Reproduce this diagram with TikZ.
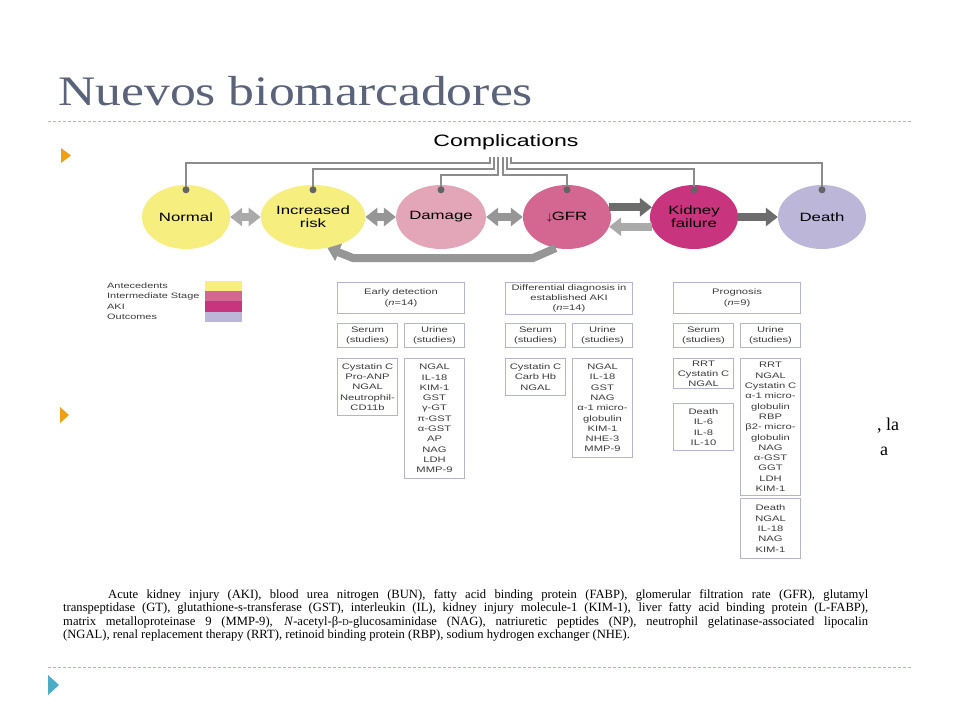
\documentclass[tikz,border=0pt]{standalone}
\usepackage{fontspec}
\setmainfont{Liberation Serif}
\newfontfamily\figfont[FakeStretch=1.4]{Liberation Sans}
\newfontfamily\titlefont[FakeStretch=1.23]{Liberation Serif}
\usetikzlibrary{shapes.geometric, arrows.meta}

\definecolor{titlegray}{RGB}{90,99,122}
\definecolor{rulecol}{RGB}{140,196,212}
\definecolor{bulletorange}{RGB}{240,160,20}
\definecolor{bulletblue}{RGB}{75,172,198}
\definecolor{anteyel}{RGB}{246,238,126}
\definecolor{dampink}{RGB}{226,166,184}
\definecolor{gfrpink}{RGB}{212,102,146}
\definecolor{kidmag}{RGB}{200,52,126}
\definecolor{deathlav}{RGB}{188,182,216}
\definecolor{linkgray}{RGB}{140,140,140}
\definecolor{pingray}{RGB}{100,100,100}
\definecolor{boxline}{RGB}{180,180,204}
\definecolor{boxtext}{RGB}{60,60,60}
\definecolor{arrlight}{RGB}{170,170,170}
\definecolor{arrmid}{RGB}{150,150,150}
\definecolor{arrdark}{RGB}{108,108,108}

\begin{document}
\begin{tikzpicture}[
        x=1pt, y=-1pt,
        stage/.style={
            ellipse,
            minimum width=88pt,
            minimum height=64pt,
            inner sep=0pt,
            align=center,
            font=\figfont\fontsize{12}{13}\selectfont
        },
        link/.style={draw=linkgray, line width=1.4pt},
        pin/.style={circle, fill=pingray, minimum size=7pt, inner sep=0pt},
        fat/.style={line width=8pt, line join=miter},
        tip/.style={-{Triangle[width=18pt,length=12pt]}},
        twotip/.style={{Triangle[width=18pt,length=12pt]}-{Triangle[width=18pt,length=12pt]}},
        box/.style={
            draw=boxline, line width=1pt,
            align=center, inner sep=2pt,
            anchor=north west, text=boxtext,
            font=\figfont\fontsize{8}{10.3}\selectfont
        },
        wbox/.style={box, minimum width=127pt, text width=123pt},
        nbox/.style={box, minimum width=60pt, text width=56pt},
        rule/.style={draw=rulecol, line width=0.9pt, dash pattern=on 3pt off 2pt},
        legtext/.style={anchor=west, inner sep=0pt, text=boxtext, font=\figfont\fontsize{7.8}{8}\selectfont}
    ]
        \useasboundingbox[fill=white] (0,0) rectangle (960,720);

        % Slide title, rules and bullets
        \node[anchor=base west, inner sep=0pt, text=titlegray,
              font=\titlefont\fontsize{42}{42}\selectfont] (title) at (58,105) {Nuevos biomarcadores};
        \draw[rule] (48,121) -- (912,121);
        \draw[rule] (48,667) -- (912,667);
        \fill[bulletorange] (61,148) -- (71,155.5) -- (61,163) -- cycle;
        \fill[bulletorange] (60,407) -- (69,415) -- (60,423) -- cycle;
        \fill[bulletblue] (48,675) -- (59,685) -- (48,695) -- cycle;

        % Stages
        \node[stage, fill=anteyel] (norm) at (186,217) {Normal};
        \node[stage, fill=anteyel] (incr) at (313,217) {Increased\\risk};
        \node[stage, fill=dampink] (dam) at (441,217) {Damage};
        \node[stage, fill=gfrpink] (gfr) at (567,217) {{\fontsize{10}{10}\selectfont$\downarrow$}GFR};
        \node[stage, fill=kidmag] (kid) at (694,217) {Kidney\\failure};
        \node[stage, fill=deathlav] (dth) at (822,217) {Death};

        % Complications and its links
        \node[font=\figfont\fontsize{16.5}{17}\selectfont] (comp) at (506,142) {Complications};
        \coordinate (c1) at (490,157);
        \coordinate (c2) at (494,157);
        \coordinate (c3) at (498,157);
        \coordinate (c4) at (503,157);
        \coordinate (c5) at (507,157);
        \coordinate (c6) at (511,157);
        \draw[link] ([yshift=-5pt]norm.north) |- ([yshift=-6pt]c1) -- (c1);
        \draw[link] ([yshift=-5pt]incr.north) |- ([yshift=-12pt]c2) -- (c2);
        \draw[link] ([yshift=-5pt]dam.north) |- ([yshift=-18pt]c3) -- (c3);
        \draw[link] ([yshift=-5pt]gfr.north) |- ([yshift=-18pt]c4) -- (c4);
        \draw[link] ([yshift=-5pt]kid.north) |- ([yshift=-12pt]c5) -- (c5);
        \draw[link] ([yshift=-5pt]dth.north) |- ([yshift=-6pt]c6) -- (c6);
        \foreach \s in {norm, incr, dam, gfr, kid, dth}
            \node[pin] (pin-\s) at ([yshift=-5pt]\s.north) {};

        % Block arrows between stages
        \draw[fat, twotip, arrlight] (norm.east) -- (incr.west);
        \draw[fat, twotip, arrmid] (incr.east) -- (dam.west);
        \draw[fat, twotip, arrmid] (dam.east) -- (gfr.west);
        \draw[fat, tip, arrdark] (gfr.13) -- (kid.167);
        \draw[fat, tip, arrlight] (kid.193) -- (gfr.-13);
        \draw[fat, tip, arrdark] (kid.east) -- (dth.west);
        \draw[fat, tip, arrmid] (gfr.250) -- (533,258) -- (353,258) -- (incr.-65);

        % Legend
        \foreach \lab/\col [count=\i] in {Antecedents/anteyel, Intermediate Stage/gfrpink, AKI/kidmag, Outcomes/deathlav} {
            \fill[\col] ({205},{270.5+10.3*\i}) rectangle ({242},{280.8+10.3*\i});
            \node[legtext] (leg\i) at ({107},{275.7+10.3*\i}) {\lab};
        }

        % Early detection
        \node[wbox, minimum height=31pt] (ed) at (337,282) {Early detection\\(\textit{n}=14)};
        \node[nbox, minimum height=24pt] (edser) at (337,323) {Serum\\(studies)};
        \node[nbox, minimum height=24pt] (eduri) at (404,323) {Urine\\(studies)};
        \node[nbox, minimum height=57pt] (edserl) at (337,358) {Cystatin C\\Pro-ANP\\NGAL\\Neutrophil-\\CD11b};
        \node[nbox, minimum height=120pt] (eduril) at (404,358) {NGAL\\IL-18\\KIM-1\\GST\\γ-GT\\π-GST\\α-GST\\AP\\NAG\\LDH\\MMP-9};

        % Differential diagnosis
        \node[wbox, minimum height=31pt] (dd) at (505,282) {Differential diagnosis in\\established AKI\\(\textit{n}=14)};
        \node[nbox, minimum height=24pt] (ddser) at (505,323) {Serum\\(studies)};
        \node[nbox, minimum height=24pt] (dduri) at (572,323) {Urine\\(studies)};
        \node[nbox, minimum height=37pt] (ddserl) at (505,358) {Cystatin C\\Carb Hb\\NGAL};
        \node[nbox, minimum height=99pt] (dduril) at (572,358) {NGAL\\IL-18\\GST\\NAG\\α-1 micro-\\globulin\\KIM-1\\NHE-3\\MMP-9};

        % Prognosis
        \node[wbox, minimum height=31pt] (pr) at (673,282) {Prognosis\\(\textit{n}=9)};
        \node[nbox, minimum height=24pt] (prser) at (673,323) {Serum\\(studies)};
        \node[nbox, minimum height=24pt] (pruri) at (740,323) {Urine\\(studies)};
        \node[nbox, minimum height=30pt] (prserl) at (673,358) {RRT\\Cystatin C\\NGAL};
        \node[nbox, minimum height=47pt] (prserd) at (673,403) {Death\\IL-6\\IL-8\\IL-10};
        \node[nbox, minimum height=137pt] (pruril) at (740,358) {RRT\\NGAL\\Cystatin C\\α-1 micro-\\globulin\\RBP\\β2- micro-\\globulin\\NAG\\α-GST\\GGT\\LDH\\KIM-1};
        \node[nbox, minimum height=60pt] (prurid) at (740,498) {Death\\NGAL\\IL-18\\NAG\\KIM-1};

        % Side text
        \node[anchor=base west, inner sep=0pt, font=\fontsize{18}{18}\selectfont] (sidea) at (877,430) {, la};
        \node[anchor=base west, inner sep=0pt, font=\fontsize{18}{18}\selectfont] (sideb) at (880,455) {a};

        % Abbreviations
        \node[anchor=north west, inner sep=0pt, align=left,
              font=\fontsize{12.6}{13.5}\selectfont] (notes) at (63,589) {%
            \makebox[805pt][s]{\hspace{45pt}Acute kidney injury (AKI), blood urea nitrogen (BUN), fatty acid binding protein (FABP), glomerular filtration rate (GFR), glutamyl}\\
            \makebox[805pt][s]{transpeptidase (GT), glutathione-s-transferase (GST), interleukin (IL), kidney injury molecule-1 (KIM-1), liver fatty acid binding protein (L-FABP),}\\
            \makebox[805pt][s]{matrix metalloproteinase 9 (MMP-9), \textit{N}-acetyl-β-{\fontsize{9}{9}\selectfont D}-glucosaminidase (NAG), natriuretic peptides (NP), neutrophil gelatinase-associated lipocalin}\\
            (NGAL), renal replacement therapy (RRT), retinoid binding protein (RBP), sodium hydrogen exchanger (NHE).};
\end{tikzpicture}
\end{document}
